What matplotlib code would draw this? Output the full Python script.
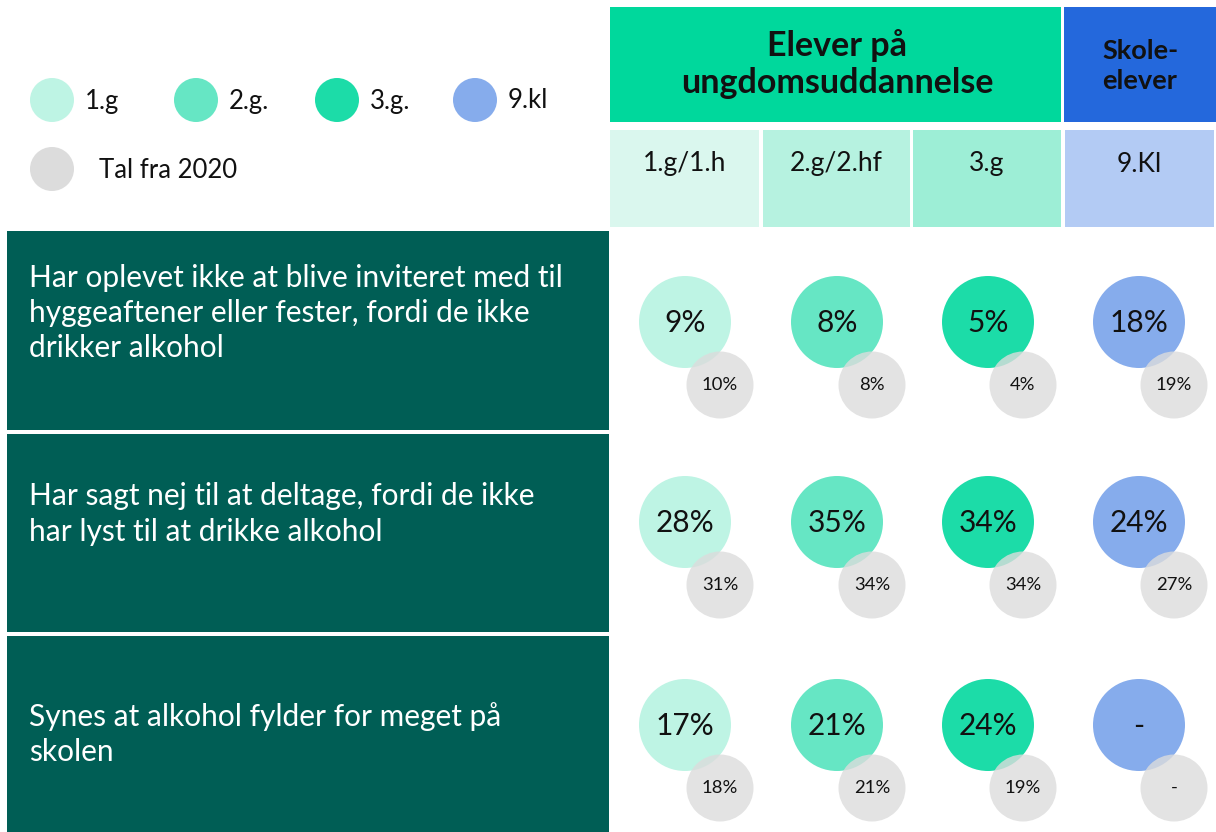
import matplotlib
matplotlib.use("Agg")
import matplotlib.pyplot as plt
from matplotlib.patches import Rectangle, Circle

plt.rcParams['font.family'] = ['Lato', 'DejaVu Sans']

# ---- data ----
questions = [
    "Har oplevet ikke at blive inviteret med til\nhyggeaftener eller fester, fordi de ikke\ndrikker alkohol",
    "Har sagt nej til at deltage, fordi de ikke\nhar lyst til at drikke alkohol",
    "Synes at alkohol fylder for meget på\nskolen",
]
groups = ["1.g/1.h", "2.g/2.hf", "3.g", "9.Kl"]
legend_labels = ["1.g", "2.g.", "3.g.", "9.kl"]
legend_2020 = "Tal fra 2020"
header_main = "Elever på\nungdomsuddannelse"
header_school = "Skole-\nelever"
# values per question (rows) x group (columns); None = no data
values_now = [[9, 8, 5, 18],
              [28, 35, 34, 24],
              [17, 21, 24, None]]
values_2020 = [[10, 8, 4, 19],
               [31, 34, 34, 27],
               [18, 21, 19, None]]

# ---- styles ----
circle_colors = ["#BEF4E4", "#66E6C4", "#1CDCA8", "#86ACEC"]
sub_colors = ["#DAF7EE", "#B6F2E0", "#9DEED6", "#B3CBF4"]
gray = "#DCDCDC"
dark = "#005E55"

def fmt(v):
    return "-" if v is None else f"{v}%"

fig = plt.figure(figsize=(12.16, 8.32), dpi=100)
ax = fig.add_axes([0, 0, 1, 1])
ax.set_xlim(0, 1216)
ax.set_ylim(832, 0)
ax.axis("off")

# header
ax.add_patch(Rectangle((610, 7), 451, 115, color="#00D89C", lw=0))
ax.add_patch(Rectangle((1064, 7), 152, 115, color="#2468DC", lw=0))
ax.text(837, 64, header_main, ha="center", va="center", fontsize=24.5,
        fontweight="bold", linespacing=1.22, color="#111111")
ax.text(1140, 66, header_school, ha="center", va="center", fontsize=19.5,
        fontweight="bold", linespacing=1.3, color="#111111")

col_x0 = [610, 763, 913, 1065]
col_w = [149, 147, 148, 149]
for i, g in enumerate(groups):
    ax.add_patch(Rectangle((col_x0[i], 130), col_w[i], 97, color=sub_colors[i], lw=0))
    ax.text(col_x0[i] + col_w[i] / 2, 164, g, ha="center", va="center",
            fontsize=19, color="#111111")

# legend
leg_x = [52, 196, 337, 475]
for i, lab in enumerate(legend_labels):
    ax.add_patch(Circle((leg_x[i], 100), 22, color=circle_colors[i], lw=0))
    ax.text(leg_x[i] + 33, 101, lab, ha="left", va="center", fontsize=18.5, color="#111111")
ax.add_patch(Circle((52, 169), 22, color=gray, lw=0))
ax.text(99, 170, legend_2020, ha="left", va="center", fontsize=18.5, color="#111111")

# rows
row_y0 = [231, 434, 636]
row_h = [199, 198, 196]
col_cx = [685, 837, 988, 1139]
row_cy = [322, 522, 725]
text_y = [313, 514, 734]
for r, q in enumerate(questions):
    ax.add_patch(Rectangle((7, row_y0[r]), 602, row_h[r], color=dark, lw=0))
    ax.text(29, text_y[r], q, ha="left", va="center", fontsize=21.5,
            color="white", linespacing=1.32)
    for c in range(len(groups)):
        cx, cy = col_cx[c], row_cy[r]
        ax.add_patch(Circle((cx, cy), 46, color=circle_colors[c], lw=0, zorder=2))
        ax.text(cx, cy + 1, fmt(values_now[r][c]), ha="center", va="center",
                fontsize=21.5, color="#111111", zorder=5)
        gx, gy = cx + 35, cy + 63
        ax.add_patch(Circle((gx, gy), 33.5, color=gray, alpha=0.8, lw=0, zorder=3))
        ax.text(gx, gy, fmt(values_2020[r][c]), ha="center", va="center",
                fontsize=13.3, color="#111111", zorder=5)

fig.savefig("out.png", dpi=100, facecolor="white")
